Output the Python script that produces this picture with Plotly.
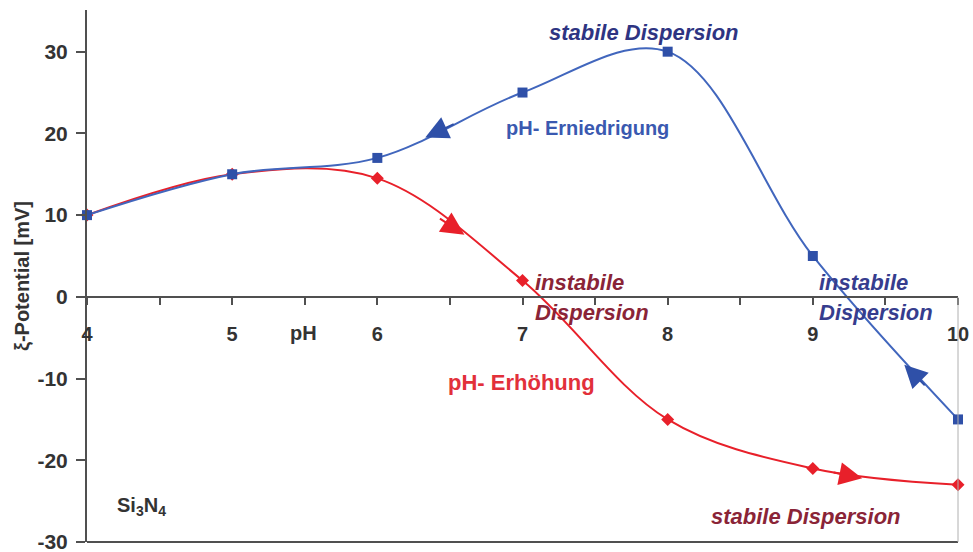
import plotly.graph_objects as go

# ---- data ----
ph = [4, 5, 6, 7, 8, 9, 10]
zeta_decrease = [10, 15, 17, 25, 30, 5, -15]      # pH- Erniedrigung (blue)
zeta_increase = [10, 15, 14.5, 2, -15, -21, -23]  # pH- Erhöhung (red)
x_ticks = [4, 5, 6, 7, 8, 9, 10]
y_ticks = [-30, -20, -10, 0, 10, 20, 30]

# arrow positions on the curves (data coords) and tail offsets (px)
arrows_blue = [(6.33, 19.5, 30, -14), (9.63, -8.3, 22, 22)]
arrows_red = [(6.6, 7.6, -26, -17), (9.34, -22.2, -30, -6)]

BLUE_LINE = "#4166bd"
BLUE_MK = "#2f50a8"
RED = "#e8202a"
NAVY = "#2e3482"
DARKRED = "#8a2437"
FONT = "Liberation Sans, Arial, sans-serif"

fig = go.Figure()
fig.add_trace(go.Scatter(
    x=ph, y=zeta_increase, mode="lines+markers",
    line=dict(color=RED, width=2, shape="spline", smoothing=1),
    marker=dict(symbol="diamond", size=10, color=RED),
    cliponaxis=False, showlegend=False))
fig.add_trace(go.Scatter(
    x=ph, y=zeta_decrease, mode="lines+markers",
    line=dict(color=BLUE_LINE, width=2, shape="spline", smoothing=1),
    marker=dict(symbol="square", size=10, color=BLUE_MK),
    cliponaxis=False, showlegend=False))

ann = []
for x, y, ax, ay in arrows_blue:
    ann.append(dict(x=x, y=y, ax=ax, ay=ay, text="", showarrow=True,
                    arrowhead=2, arrowsize=2.3, arrowwidth=2, arrowcolor=BLUE_MK))
for x, y, ax, ay in arrows_red:
    ann.append(dict(x=x, y=y, ax=ax, ay=ay, text="", showarrow=True,
                    arrowhead=2, arrowsize=2.3, arrowwidth=2, arrowcolor=RED))

def txt(x, y, s, color, italic=False, xanchor="center", size=22):
    return dict(x=x, y=y, text=("<i><b>%s</b></i>" if italic else "<b>%s</b>") % s,
                showarrow=False, xanchor=xanchor, yanchor="middle",
                font=dict(family=FONT, size=size, color=color))

ann += [
    txt(7.84, 32.4, "stabile Dispersion", NAVY, True),
    txt(7.45, 20.7, "pH- Erniedrigung", "#3a59b0", False, "center", 20),
    txt(7.07, 1.7, "instabile", DARKRED, True, "left"),
    txt(7.07, -1.9, "Dispersion", DARKRED, True, "left"),
    txt(9.03, 1.7, "instabile", "#363d8e", True, "left"),
    txt(9.03, -1.9, "Dispersion", "#363d8e", True, "left"),
    txt(6.99, -10.5, "pH- Erhöhung", "#e2303a"),
    txt(8.95, -26.9, "stabile Dispersion", DARKRED, True),
    txt(4.19, -25.7, "Si<sub>3</sub>N<sub>4</sub>", "#333333", False, "left", 20),
    txt(5.49, -4.4, "pH", "#333333", False, "center", 20),
]

fig.update_layout(
    width=973, height=552,
    margin=dict(l=87, r=15, t=10, b=10, autoexpand=False),
    paper_bgcolor="white", plot_bgcolor="white",
    font=dict(family=FONT, size=20, color="#333333"),
    annotations=ann,
    xaxis=dict(range=[4, 10], tickvals=x_ticks, ticktext=[f"<b>{v}</b>" for v in x_ticks],
               showgrid=False, zeroline=False, showline=True, linecolor="#505050", linewidth=2,
               ticks="outside", ticklen=7, tickwidth=2, tickcolor="#505050",
               ticklabelstandoff=12, ticklabeloverflow="allow", automargin=False,
               minor=dict(dtick=0.5, ticks="outside", ticklen=7, tickwidth=2, tickcolor="#505050"),
               anchor="free", position=30 / 65.1, tickfont=dict(size=20, color="#333333")),
    yaxis=dict(range=[-30, 35.1], tickvals=y_ticks, ticktext=[f"<b>{v}</b>" for v in y_ticks],
               showgrid=False, zeroline=False, showline=True, linecolor="#505050", linewidth=2,
               ticks="outside", ticklen=9, tickwidth=2, tickcolor="#505050",
               ticklabelstandoff=4, ticklabeloverflow="allow", automargin=False,
               tickfont=dict(size=21, color="#333333"),
               title=dict(text="<b>ξ-Potential [mV]</b>", standoff=2,
                          font=dict(size=20, color="#333333"))),
    shapes=[
        dict(type="line", xref="paper", yref="paper", x0=0, x1=1, y0=0, y1=0,
             line=dict(color="#505050", width=2)),
        dict(type="line", xref="paper", yref="paper", x0=1, x1=1, y0=0, y1=0.46,
             line=dict(color="#b0b0b0", width=1)),
    ],
)

fig.write_html("out.html")
